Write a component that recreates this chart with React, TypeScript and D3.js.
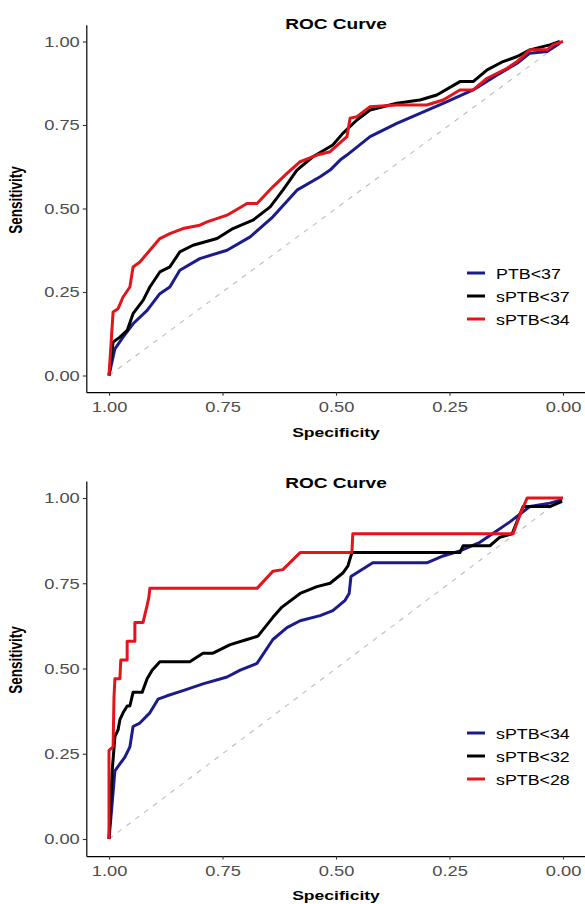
import React, { useEffect, useRef } from 'react';
import * as d3 from 'd3';

const tickValues = [1, 0.75, 0.5, 0.25, 0];

const topLabels = ['PTB<37', 'sPTB<37', 'sPTB<34'];
const bottomLabels = ['sPTB<34', 'sPTB<32', 'sPTB<28'];
const colors = ['#1b1b8c', '#000000', '#e3141c'];

// [specificity, sensitivity]
const ptb37: [number, number][] = [
  [1, 0], [0.987, 0.08], [0.969, 0.115], [0.947, 0.155], [0.916, 0.195], [0.888, 0.245],
  [0.866, 0.265], [0.844, 0.315], [0.8, 0.35], [0.74, 0.375], [0.689, 0.415], [0.639, 0.475],
  [0.586, 0.555], [0.535, 0.595], [0.513, 0.615], [0.491, 0.645], [0.476, 0.66], [0.425, 0.715],
  [0.366, 0.755], [0.315, 0.785], [0.264, 0.815], [0.198, 0.855], [0.145, 0.9], [0.101, 0.935],
  [0.073, 0.965], [0.035, 0.97], [0.007, 0.995],
];
const sptb37: [number, number][] = [
  [1, 0], [0.991, 0.1], [0.976, 0.115], [0.96, 0.135], [0.947, 0.185], [0.925, 0.225],
  [0.91, 0.265], [0.888, 0.31], [0.866, 0.325], [0.844, 0.37], [0.815, 0.39], [0.762, 0.41],
  [0.727, 0.44], [0.683, 0.465], [0.645, 0.505], [0.617, 0.555], [0.586, 0.615], [0.551, 0.655],
  [0.507, 0.69], [0.485, 0.725], [0.454, 0.765], [0.425, 0.795], [0.366, 0.815], [0.315, 0.825],
  [0.278, 0.84], [0.227, 0.88], [0.198, 0.88], [0.167, 0.915], [0.132, 0.94], [0.101, 0.955],
  [0.073, 0.975], [0.029, 0.99], [0.007, 1],
];
const sptb34a: [number, number][] = [
  [1, 0], [0.991, 0.19], [0.98, 0.2], [0.969, 0.235], [0.954, 0.265], [0.947, 0.325],
  [0.932, 0.34], [0.91, 0.375], [0.888, 0.41], [0.866, 0.425], [0.837, 0.44], [0.8, 0.45],
  [0.784, 0.46], [0.74, 0.48], [0.696, 0.515], [0.674, 0.515], [0.639, 0.565], [0.608, 0.605],
  [0.579, 0.64], [0.542, 0.66], [0.513, 0.67], [0.476, 0.715], [0.469, 0.77], [0.454, 0.775],
  [0.425, 0.805], [0.366, 0.81], [0.3, 0.81], [0.264, 0.825], [0.227, 0.855], [0.198, 0.855],
  [0.167, 0.89], [0.123, 0.92], [0.101, 0.94], [0.073, 0.975], [0.035, 0.975], [0.022, 0.99],
  [0, 1],
];

const sptb34b: [number, number][] = [
  [1, 0], [0.993, 0.105], [0.987, 0.2], [0.976, 0.22], [0.965, 0.24], [0.954, 0.27],
  [0.947, 0.33], [0.932, 0.34], [0.91, 0.37], [0.892, 0.41], [0.872, 0.42], [0.837, 0.435],
  [0.793, 0.455], [0.74, 0.475], [0.711, 0.495], [0.674, 0.515], [0.639, 0.585], [0.608, 0.62],
  [0.579, 0.64], [0.535, 0.655], [0.507, 0.67], [0.48, 0.7], [0.471, 0.72], [0.467, 0.77],
  [0.419, 0.81], [0.3, 0.81], [0.264, 0.83], [0.227, 0.845], [0.183, 0.87], [0.161, 0.89],
  [0.117, 0.93], [0.073, 0.975], [0.029, 0.985], [0.002, 0.995],
];
const sptb32: [number, number][] = [
  [1, 0], [0.993, 0.2], [0.987, 0.3], [0.98, 0.32], [0.976, 0.35], [0.969, 0.37],
  [0.96, 0.39], [0.954, 0.39], [0.947, 0.43], [0.927, 0.43], [0.916, 0.47], [0.905, 0.495],
  [0.888, 0.52], [0.822, 0.52], [0.793, 0.545], [0.771, 0.545], [0.733, 0.57], [0.696, 0.585],
  [0.672, 0.595], [0.639, 0.65], [0.619, 0.68], [0.579, 0.72], [0.542, 0.74], [0.513, 0.75],
  [0.485, 0.78], [0.474, 0.8], [0.465, 0.84], [0.227, 0.84], [0.22, 0.86], [0.161, 0.86],
  [0.139, 0.885], [0.112, 0.895], [0.088, 0.975], [0.029, 0.975], [0.002, 0.99],
];
const sptb28: [number, number][] = [
  [1, 0], [1, 0.26], [0.991, 0.27], [0.989, 0.415], [0.987, 0.47], [0.976, 0.47],
  [0.974, 0.525], [0.96, 0.525], [0.96, 0.58], [0.943, 0.58], [0.943, 0.635], [0.925, 0.635],
  [0.916, 0.685], [0.912, 0.71], [0.91, 0.735], [0.674, 0.735], [0.639, 0.785], [0.617, 0.79],
  [0.579, 0.84], [0.465, 0.84], [0.463, 0.895], [0.11, 0.895], [0.095, 0.95], [0.079, 1],
  [0, 1],
];

const FONT = '"Liberation Sans", Arial, sans-serif';
const SX = 1.22;

type PanelProps = {
  series: [number, number][][];
  labels: string[];
  y0: number;
  y1: number;
  titleY: number;
  legendY: number;
  yTitleY: number;
  xTitleY: number;
};

const Panel = ({ series, labels, y0, y1, titleY, legendY, yTitleY, xTitleY }: PanelProps) => {
  const ref = useRef<SVGGElement>(null);

  useEffect(() => {
    const g = d3.select(ref.current);
    g.selectAll('*').remove();

    const x = d3.scaleLinear().domain([1.05, -0.05]).range([86.3, 585.7]);
    const unit = y0 - y1;
    const y = d3.scaleLinear().domain([-0.05, 1.05]).range([y0 + 0.05 * unit, y1 - 0.05 * unit]);

    g.append('line')
      .attr('x1', x(1)).attr('y1', y(0)).attr('x2', x(0)).attr('y2', y(1))
      .attr('stroke', '#bdbdbd').attr('stroke-width', 1.1).attr('stroke-dasharray', '5,6');

    const line = d3.line<[number, number]>().x(d => x(d[0])).y(d => y(d[1]));
    series.forEach((s, i) => {
      g.append('path').attr('d', line(s)).attr('fill', 'none')
        .attr('stroke', colors[i]).attr('stroke-width', 3).attr('stroke-linejoin', 'round');
    });

    const xa = g.append('g').attr('transform', `translate(0,${y(-0.05)})`)
      .call(d3.axisBottom(x).tickValues(tickValues).tickFormat(d3.format('.2f')).tickSize(3.5).tickSizeOuter(0).tickPadding(5.5));
    const ya = g.append('g').attr('transform', `translate(${x(1.05)},0)`)
      .call(d3.axisLeft(y).tickValues(tickValues).tickFormat(d3.format('.2f')).tickSize(3.5).tickSizeOuter(0));

    [xa, ya].forEach(a => {
      a.select('.domain').attr('stroke', '#000').attr('stroke-width', 1.2);
      a.selectAll('.tick line').attr('stroke', '#333').attr('stroke-width', 1.1);
      a.selectAll('.tick text').attr('fill', '#4d4d4d').attr('font-size', 15).attr('font-family', FONT);
    });
    xa.selectAll('.tick text').attr('transform', `scale(${SX},1)`);
    ya.selectAll('.tick text').attr('x', 0).attr('transform', `translate(-6.5,0) scale(${SX},1)`);

    g.append('text').text('ROC Curve')
      .attr('transform', `translate(336,${titleY}) scale(1.23,1)`)
      .attr('text-anchor', 'middle').attr('font-weight', 'bold').attr('font-size', 15.5).attr('font-family', FONT);

    g.append('text').text('Specificity')
      .attr('transform', `translate(336,${xTitleY}) scale(1.3,1)`)
      .attr('text-anchor', 'middle').attr('font-weight', 'bold').attr('font-size', 13.5).attr('font-family', FONT);

    g.append('text').text('Sensitivity')
      .attr('transform', `translate(22,${yTitleY}) rotate(-90) scale(1,1.3)`)
      .attr('text-anchor', 'middle').attr('font-weight', 'bold').attr('font-size', 13.5).attr('font-family', FONT);

    labels.forEach((lab, i) => {
      const ly = legendY + i * 23;
      g.append('line').attr('x1', 467).attr('x2', 485).attr('y1', ly).attr('y2', ly)
        .attr('stroke', colors[i]).attr('stroke-width', 3);
      g.append('text').text(lab)
        .attr('transform', `translate(496,${ly}) scale(1.15,1)`)
        .attr('dy', '0.36em').attr('font-size', 15.5).attr('font-family', FONT).attr('fill', '#000');
    });
  }, [series, labels, y0, y1, titleY, legendY, yTitleY, xTitleY]);

  return <g ref={ref} />;
};

const App = () => {
  return (
    <div>
      <svg width={585} height={904} style={{ position: 'absolute', left: 0, top: 0, background: '#fff' }}>
        <Panel series={[ptb37, sptb37, sptb34a]} labels={topLabels}
          y0={375.5} y1={41.5} titleY={29} legendY={273} yTitleY={200} xTitleY={437} />
        <Panel series={[sptb34b, sptb32, sptb28]} labels={bottomLabels}
          y0={839} y1={498} titleY={488} legendY={733} yTitleY={660} xTitleY={900} />
      </svg>
    </div>
  );
};

export default App;
